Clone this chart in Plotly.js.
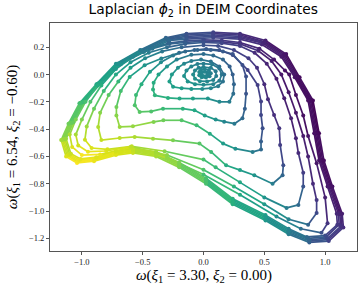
<!DOCTYPE html>
<html><head><meta charset="utf-8">
<script src="https://cdn.plot.ly/plotly-3.0.1.min.js"></script>
<style>html,body{margin:0;padding:0;background:#fff}#chart{width:359px;height:284px}</style>
</head><body><div id="chart"></div>
<script>
// ---- data: loops of (x, y) in DEIM coordinates, c = Laplacian phi_2 value (normalised) ----
const o1X=[-0.14,0.08,0.30,0.51,0.68,0.79,0.90,0.95,0.99,1.06,1.14,1.15,1.03,0.87,0.70,0.51,0.24,0.02,-0.20,-0.39,-0.58,-0.72,-0.90,-1.04,-1.13,-1.17,-1.11,-1.02,-0.88,-0.72,-0.52,-0.31];
const o1Y=[0.30,0.31,0.30,0.25,0.15,-0.02,-0.19,-0.43,-0.63,-0.82,-1.02,-1.12,-1.22,-1.23,-1.17,-1.07,-0.95,-0.80,-0.68,-0.60,-0.575,-0.59,-0.635,-0.648,-0.60,-0.48,-0.36,-0.21,-0.07,0.08,0.18,0.27];
const o1C=[0.25,0.2,0.14,0.09,0.05,0.03,0.02,0.02,0.03,0.05,0.09,0.13,0.2,0.3,0.42,0.53,0.63,0.71,0.8,0.87,0.92,0.95,0.98,1.0,0.95,0.86,0.78,0.7,0.6,0.5,0.4,0.32];

const o2X=[-0.14,0.08,0.30,0.505,0.67,0.78,0.89,0.94,0.98,1.05,1.13,1.14,1.025,0.87,0.70,0.51,0.24,0.02,-0.20,-0.39,-0.58,-0.72,-0.90,-1.035,-1.12,-1.16,-1.10,-1.01,-0.87,-0.71,-0.515,-0.305];
const o2Y=[0.29,0.30,0.29,0.24,0.145,-0.02,-0.19,-0.43,-0.63,-0.82,-1.02,-1.115,-1.21,-1.22,-1.16,-1.06,-0.94,-0.79,-0.67,-0.59,-0.567,-0.582,-0.627,-0.64,-0.595,-0.478,-0.357,-0.207,-0.067,0.08,0.177,0.265];
const o2C=[0.25,0.2,0.14,0.09,0.05,0.03,0.02,0.02,0.03,0.05,0.09,0.13,0.2,0.31,0.42,0.53,0.63,0.71,0.8,0.87,0.92,0.95,0.97,0.99,0.95,0.86,0.78,0.7,0.6,0.5,0.4,0.32];

const o3X=[-0.14,0.08,0.30,0.50,0.66,0.77,0.88,0.93,0.97,1.04,1.12,1.13,1.02,0.87,0.70,0.51,0.24,0.02,-0.20,-0.39,-0.58,-0.72,-0.89,-1.03,-1.11,-1.15,-1.09,-1.0,-0.86,-0.70,-0.51,-0.30];
const o3Y=[0.28,0.29,0.28,0.235,0.14,-0.02,-0.19,-0.43,-0.63,-0.82,-1.02,-1.11,-1.20,-1.21,-1.15,-1.05,-0.93,-0.78,-0.66,-0.58,-0.56,-0.575,-0.62,-0.633,-0.59,-0.475,-0.355,-0.205,-0.064,0.08,0.174,0.26];
const o3C=[0.26,0.2,0.15,0.1,0.06,0.04,0.03,0.03,0.03,0.05,0.09,0.14,0.21,0.32,0.43,0.53,0.63,0.71,0.8,0.87,0.92,0.95,0.97,0.98,0.94,0.86,0.78,0.7,0.6,0.5,0.41,0.33];

const o4X=[-0.14,0.08,0.30,0.49,0.65,0.76,0.87,0.92,0.96,1.03,1.11,1.115,1.01,0.86,0.70,0.51,0.24,0.02,-0.20,-0.39,-0.58,-0.72,-0.885,-1.02,-1.10,-1.14,-1.08,-0.99,-0.85,-0.69,-0.50,-0.29];
const o4Y=[0.27,0.28,0.27,0.23,0.135,-0.02,-0.19,-0.43,-0.63,-0.82,-1.02,-1.10,-1.19,-1.20,-1.14,-1.04,-0.92,-0.77,-0.65,-0.57,-0.552,-0.568,-0.612,-0.626,-0.585,-0.472,-0.352,-0.202,-0.062,0.078,0.17,0.255];
const o4C=[0.26,0.21,0.15,0.1,0.06,0.04,0.03,0.03,0.04,0.06,0.1,0.15,0.22,0.33,0.44,0.54,0.63,0.71,0.8,0.86,0.91,0.94,0.96,0.97,0.93,0.85,0.77,0.69,0.6,0.5,0.41,0.33];

const o5X=[-0.14,0.08,0.30,0.48,0.64,0.75,0.86,0.91,0.95,1.02,1.095,1.10,1.0,0.85,0.70,0.51,0.24,0.02,-0.20,-0.39,-0.58,-0.72,-0.88,-1.01,-1.09,-1.13,-1.07,-0.98,-0.84,-0.68,-0.49,-0.28];
const o5Y=[0.26,0.27,0.26,0.22,0.13,-0.02,-0.19,-0.43,-0.63,-0.82,-1.02,-1.10,-1.18,-1.19,-1.13,-1.03,-0.91,-0.76,-0.645,-0.565,-0.545,-0.56,-0.605,-0.618,-0.58,-0.47,-0.35,-0.2,-0.06,0.075,0.165,0.25];
const o5C=[0.27,0.21,0.16,0.11,0.07,0.05,0.04,0.04,0.05,0.07,0.11,0.16,0.23,0.34,0.44,0.54,0.63,0.71,0.8,0.86,0.91,0.93,0.95,0.96,0.92,0.85,0.77,0.69,0.6,0.5,0.41,0.34];

const hX=[-0.15,0.0,0.15,0.3,0.46,0.58,0.67,0.705,0.76,0.82,0.86,0.93,1.0,1.02,0.97,0.8,0.6,0.3,0.0,-0.3,-0.6,-0.85,-1.0,-1.08,-1.1,-1.05,-0.97,-0.87,-0.74,-0.6,-0.44,-0.29];
const hY=[0.245,0.255,0.25,0.235,0.19,0.11,0.03,0.0,-0.15,-0.3,-0.45,-0.65,-0.9,-1.09,-1.16,-1.13,-1.04,-0.88,-0.733,-0.61,-0.535,-0.585,-0.59,-0.53,-0.44,-0.33,-0.2,-0.08,0.04,0.125,0.19,0.23];
const hC=[0.27,0.22,0.17,0.13,0.09,0.06,0.04,0.04,0.04,0.04,0.05,0.06,0.09,0.15,0.24,0.37,0.49,0.61,0.7,0.83,0.92,0.97,0.99,0.95,0.88,0.8,0.71,0.62,0.53,0.45,0.37,0.31];

const gX=[-0.15,0.0,0.15,0.3,0.45,0.56,0.64,0.7,0.76,0.82,0.86,0.9,0.93,0.93,0.86,0.7,0.5,0.25,0.0,-0.3,-0.6,-0.8,-0.95,-1.03,-1.05,-1.0,-0.93,-0.84,-0.72,-0.58,-0.42,-0.28];
const gY=[0.235,0.245,0.24,0.225,0.175,0.1,0.0,-0.13,-0.28,-0.45,-0.6,-0.8,-0.92,-1.015,-1.1,-1.06,-0.95,-0.82,-0.697,-0.59,-0.53,-0.56,-0.565,-0.52,-0.44,-0.33,-0.2,-0.08,0.04,0.13,0.19,0.225];
const gC=[0.28,0.23,0.19,0.15,0.11,0.08,0.06,0.06,0.06,0.07,0.09,0.12,0.16,0.22,0.32,0.44,0.54,0.64,0.72,0.83,0.91,0.95,0.97,0.93,0.87,0.8,0.72,0.63,0.54,0.46,0.38,0.32];

const fX=[-0.15,0.0,0.15,0.3,0.42,0.52,0.6,0.664,0.72,0.76,0.78,0.82,0.82,0.78,0.683,0.5,0.3,0.1,0.0,-0.32,-0.59,-0.79,-0.92,-0.975,-0.96,-0.9,-0.82,-0.72,-0.6,-0.45,-0.3];
const fY=[0.225,0.235,0.23,0.21,0.16,0.08,-0.03,-0.174,-0.32,-0.467,-0.575,-0.72,-0.82,-0.955,-0.977,-0.9,-0.79,-0.68,-0.623,-0.562,-0.526,-0.548,-0.538,-0.477,-0.38,-0.25,-0.12,0.0,0.09,0.16,0.2];
const fC=[0.3,0.25,0.21,0.17,0.13,0.1,0.08,0.08,0.09,0.1,0.12,0.18,0.26,0.34,0.42,0.52,0.6,0.67,0.71,0.82,0.9,0.94,0.95,0.92,0.85,0.77,0.69,0.6,0.51,0.42,0.35];

const eX=[-0.18,0.0,0.12,0.25,0.37,0.44,0.5,0.53,0.58,0.623,0.63,0.656,0.65,0.568,0.418,0.3,0.186,0.063,-0.033,-0.251,-0.415,-0.566,-0.689,-0.84,-0.866,-0.85,-0.78,-0.7,-0.6,-0.48,-0.34];
const eY=[0.2,0.215,0.21,0.18,0.12,0.05,-0.07,-0.18,-0.296,-0.393,-0.516,-0.665,-0.738,-0.8,-0.738,-0.7,-0.665,-0.567,-0.506,-0.482,-0.47,-0.457,-0.465,-0.48,-0.384,-0.28,-0.15,-0.05,0.05,0.12,0.17];
const eC=[0.32,0.26,0.23,0.2,0.17,0.14,0.12,0.12,0.13,0.15,0.18,0.24,0.32,0.42,0.52,0.57,0.62,0.68,0.74,0.8,0.85,0.88,0.9,0.91,0.88,0.82,0.74,0.66,0.56,0.47,0.39];

const dX=[-0.074,0.022,0.13,0.24,0.363,0.445,0.473,0.473,0.486,0.473,0.473,0.404,0.262,0.161,0.052,-0.057,-0.18,-0.33,-0.41,-0.58,-0.689,-0.716,-0.716,-0.68,-0.607,-0.484,-0.347,-0.2];
const dY=[0.18,0.188,0.18,0.144,0.034,-0.076,-0.198,-0.296,-0.393,-0.49,-0.55,-0.567,-0.543,-0.506,-0.433,-0.372,-0.335,-0.335,-0.347,-0.379,-0.384,-0.3,-0.237,-0.12,-0.017,0.068,0.118,0.16];
const dC=[0.31,0.28,0.25,0.22,0.19,0.18,0.19,0.21,0.24,0.3,0.34,0.42,0.5,0.55,0.62,0.68,0.73,0.78,0.81,0.84,0.85,0.82,0.78,0.7,0.62,0.52,0.44,0.36];

const cX=[-0.15,-0.05,0.06,0.16,0.24,0.32,0.35,0.35,0.34,0.32,0.254,0.17,0.1,0.01,-0.074,-0.17,-0.333,-0.43,-0.525,-0.565,-0.555,-0.51,-0.44,-0.35,-0.25];
const cY=[0.17,0.18,0.18,0.17,0.15,0.07,-0.015,-0.14,-0.25,-0.32,-0.36,-0.345,-0.33,-0.3,-0.262,-0.25,-0.25,-0.27,-0.274,-0.225,-0.15,-0.07,0.02,0.09,0.14];
const cC=[0.34,0.32,0.3,0.28,0.26,0.24,0.24,0.26,0.3,0.34,0.4,0.45,0.5,0.56,0.6,0.64,0.68,0.72,0.74,0.72,0.68,0.63,0.56,0.48,0.4];

const b2X=[-0.1,0.0,0.08,0.16,0.215,0.24,0.25,0.245,0.213,0.131,0.036,-0.087,-0.197,-0.292,-0.4,-0.415,-0.41,-0.37,-0.3,-0.22];
const b2Y=[0.145,0.15,0.14,0.11,0.06,0.0,-0.07,-0.14,-0.2,-0.2,-0.176,-0.176,-0.176,-0.171,-0.152,-0.11,-0.06,0.0,0.06,0.11];
const b2C=[0.38,0.36,0.34,0.32,0.3,0.3,0.32,0.36,0.42,0.47,0.52,0.57,0.6,0.63,0.65,0.64,0.62,0.58,0.51,0.44];

const b1X=[-0.1,-0.02,0.06,0.13,0.17,0.16,0.12,0.06,-0.01,-0.1,-0.18,-0.25,-0.28,-0.26,-0.21,-0.16];
const b1Y=[0.1,0.11,0.095,0.06,0.0,-0.05,-0.085,-0.1,-0.105,-0.105,-0.1,-0.09,-0.05,0.0,0.05,0.08];
const b1C=[0.42,0.4,0.38,0.36,0.36,0.38,0.41,0.45,0.48,0.52,0.55,0.56,0.56,0.54,0.5,0.46];

const r3X=[0.0,0.07,0.13,0.15,0.13,0.08,0.0,-0.07,-0.13,-0.16,-0.14,-0.1,-0.05];
const r3Y=[0.08,0.075,0.045,0.0,-0.045,-0.07,-0.075,-0.07,-0.05,-0.01,0.03,0.06,0.078];
const r3C=[0.42,0.41,0.39,0.39,0.41,0.44,0.47,0.5,0.51,0.5,0.48,0.45,0.43];

const r2X=[0.0,0.06,0.1,0.105,0.08,0.03,-0.03,-0.07,-0.085,-0.07,-0.04];
const r2Y=[0.055,0.05,0.025,-0.01,-0.04,-0.05,-0.048,-0.03,0.0,0.03,0.05];
const r2C=[0.43,0.42,0.41,0.42,0.44,0.46,0.48,0.49,0.48,0.46,0.44];

const r1X=[0.01,0.045,0.06,0.05,0.02,-0.015,-0.035,-0.035,-0.02];
const r1Y=[0.04,0.033,0.01,-0.012,-0.022,-0.02,-0.005,0.018,0.035];
const r1C=[0.44,0.43,0.43,0.44,0.46,0.47,0.48,0.47,0.45];

const r0X=[0.01,0.03,0.035,0.02,0.0,-0.015,-0.015];
const r0Y=[0.02,0.015,0.0,-0.012,-0.012,0.0,0.015];
const r0C=[0.45,0.44,0.44,0.45,0.46,0.46,0.45];

const xTicks=[-1.0,-0.5,0.0,0.5,1.0];
const xTickText=['\u22121.0','\u22120.5','0.0','0.5','1.0'];
const yTicks=[-1.2,-1.0,-0.8,-0.6,-0.4,-0.2,0.0,0.2];
const yTickText=['\u22121.2','\u22121.0','\u22120.8','\u22120.6','\u22120.4','\u22120.2','0.0','0.2'];

// ---- drawing ----
const LOOPS=[[o1X,o1Y,o1C],[o2X,o2Y,o2C],[o3X,o3Y,o3C],[o4X,o4Y,o4C],[o5X,o5Y,o5C],
  [hX,hY,hC],[gX,gY,gC],[fX,fY,fC],[eX,eY,eC],[dX,dY,dC],[cX,cY,cC],
  [b2X,b2Y,b2C],[b1X,b1Y,b1C],[r3X,r3Y,r3C],[r2X,r2Y,r2C],[r1X,r1Y,r1C],[r0X,r0Y,r0C]];

const VIR=[[0,'#440154'],[0.0627,'#48186a'],[0.1255,'#472d7b'],[0.1882,'#424086'],[0.2510,'#3b528b'],
 [0.3137,'#33638d'],[0.3765,'#2c728e'],[0.4392,'#26828e'],[0.5020,'#21918c'],[0.5647,'#1fa088'],
 [0.6275,'#28ae80'],[0.6902,'#3fbc73'],[0.7529,'#5ec962'],[0.8157,'#84d44b'],[0.8784,'#addc30'],
 [0.9412,'#d8e219'],[1,'#fde725']];
function hex(h){return [parseInt(h.slice(1,3),16),parseInt(h.slice(3,5),16),parseInt(h.slice(5,7),16)];}
function vir(t){
  t=Math.max(0,Math.min(1,t));
  for(let i=0;i<VIR.length-1;i++){
    const [a,ca]=VIR[i],[b,cb]=VIR[i+1];
    if(t<=b){const f=(t-a)/(b-a),A=hex(ca),B=hex(cb);
      return 'rgb('+A.map((v,k)=>Math.round(v+(B[k]-v)*f)).join(',')+')';}
  }
  return VIR[VIR.length-1][1];
}
const NB=40;
const bins=Array.from({length:NB},()=>({x:[],y:[]}));
LOOPS.forEach(([xs,ys,cs])=>{
  const n=xs.length;
  for(let i=0;i<n;i++){
    const j=(i+1)%n;
    const cm=(cs[i]+cs[j])/2;
    const b=Math.min(NB-1,Math.max(0,Math.floor(cm*NB)));
    bins[b].x.push(xs[i],xs[j],null);
    bins[b].y.push(ys[i],ys[j],null);
  }
});
const traces=[];
bins.forEach((bn,b)=>{
  if(bn.x.length) traces.push({type:'scatter',mode:'lines',x:bn.x,y:bn.y,
    line:{color:vir((b+0.5)/NB),width:1.7},hoverinfo:'skip',showlegend:false});
});
LOOPS.forEach(([xs,ys,cs])=>{
  traces.push({type:'scatter',mode:'markers',x:xs,y:ys,showlegend:false,hoverinfo:'skip',
    marker:{color:cs,colorscale:'Viridis',cmin:0,cmax:1,size:4,line:{width:0}}});
});

const serif='"Liberation Serif","DejaVu Serif",serif';
const axBase={showline:true,mirror:true,linecolor:'#555',linewidth:1,ticks:'outside',ticklen:3,
  tickcolor:'#555',tickwidth:1,showgrid:false,zeroline:false,
  tickfont:{family:serif,size:8.5,color:'#222'}};
const layout={
  width:359,height:284,margin:{l:50,r:2,t:23,b:33},
  paper_bgcolor:'#fff',plot_bgcolor:'#fff',showlegend:false,
  title:{text:'Laplacian <i>\u03d5</i><sub>2</sub> in DEIM Coordinates',
    font:{family:'"DejaVu Sans",sans-serif',size:13.8,color:'#000'},
    x:0.566,xanchor:'center',y:0.966,yanchor:'middle'},
  xaxis:Object.assign({},axBase,{range:[-1.262,1.262],tickvals:xTicks,ticktext:xTickText}),
  yaxis:Object.assign({},axBase,{range:[-1.293,0.378],tickvals:yTicks,ticktext:yTickText}),
  annotations:[
    {xref:'paper',yref:'paper',x:0.5,y:-0.108,xanchor:'center',yanchor:'middle',showarrow:false,
     text:'<i>\u03c9</i>(<i>\u03be</i><sub>1</sub> = 3.30, <i>\u03be</i><sub>2</sub> = 0.00)',
     font:{family:serif,size:15,color:'#000'}},
    {xref:'paper',yref:'paper',x:-0.12,y:0.5,xanchor:'center',yanchor:'middle',showarrow:false,textangle:-90,
     text:'<i>\u03c9</i>(<i>\u03be</i><sub>1</sub> = 6.54, <i>\u03be</i><sub>2</sub> = \u22120.60)',
     font:{family:serif,size:15,color:'#000'}}
  ]
};
Plotly.newPlot('chart',traces,layout,{staticPlot:true,displayModeBar:false});
</script></body></html>
